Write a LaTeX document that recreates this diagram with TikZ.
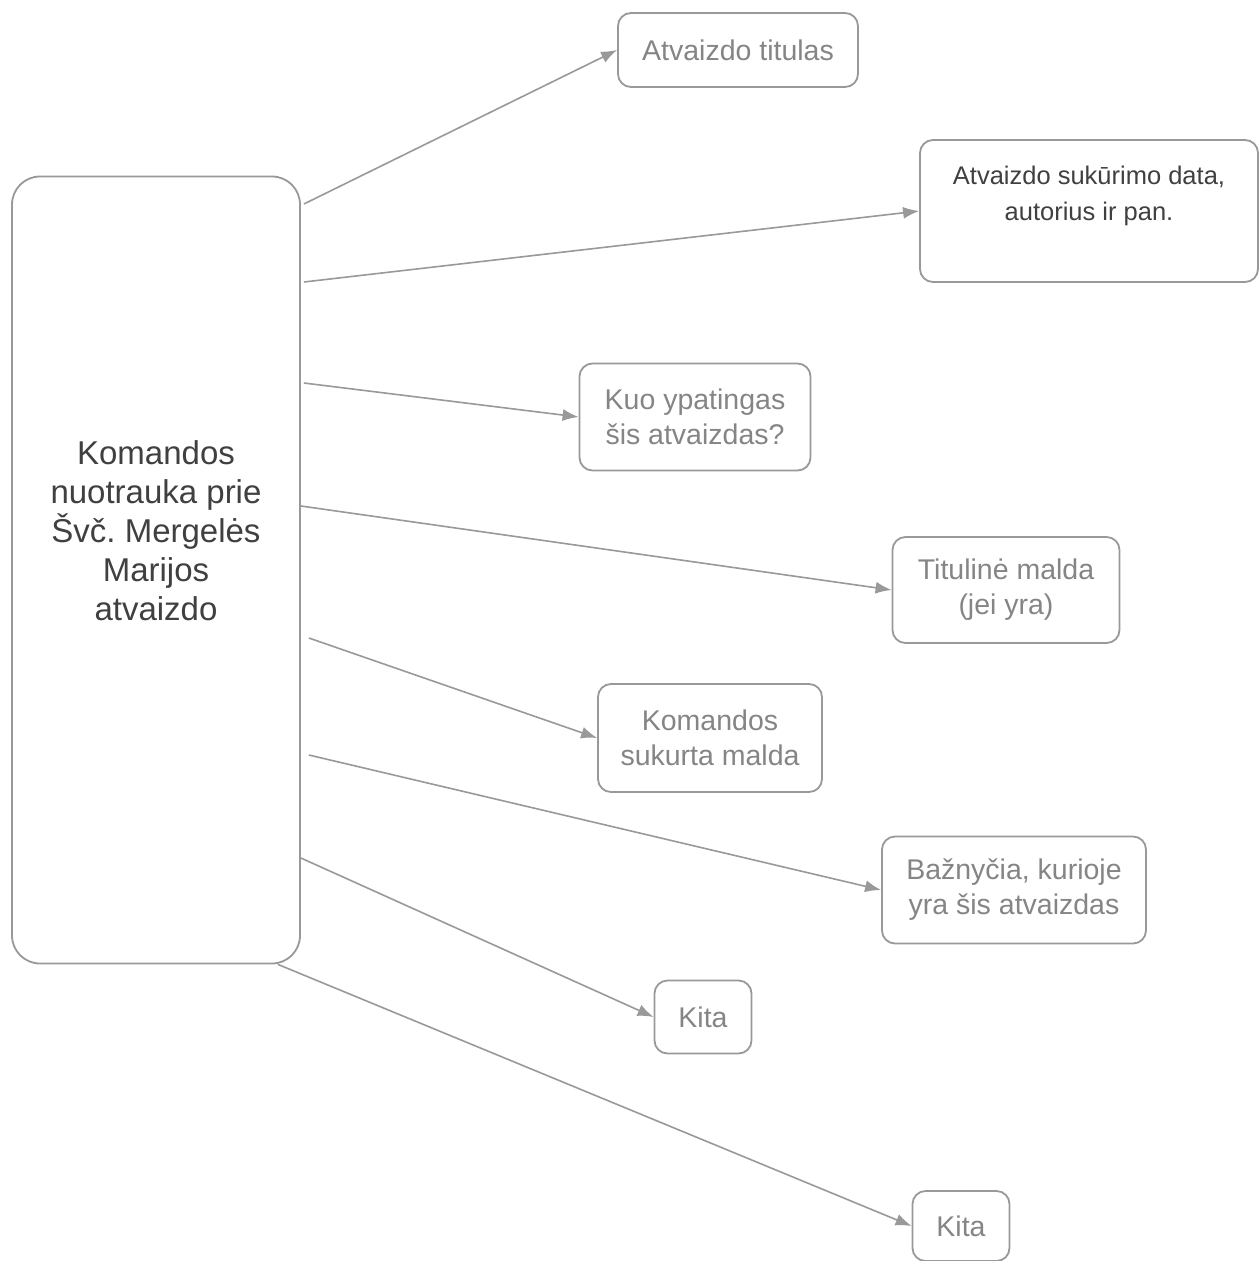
\documentclass[tikz,border=0pt]{standalone}
\usepackage{fontspec}
\setmainfont{Liberation Sans}
\usepackage{xcolor}
\usepackage{tikz}
\usetikzlibrary{calc,arrows.meta}
\definecolor{bg}{HTML}{FFFFFF}
\definecolor{edge}{HTML}{999999}
\definecolor{dark}{HTML}{404040}
\definecolor{light}{HTML}{858585}
\tikzset{
  box/.style={draw=edge, line width=1.8pt, rounded corners=13pt, align=center, inner sep=0pt},
  bigbox/.style={box, rounded corners=28pt, text=dark, font=\fontsize{33}{39}\selectfont},
  labl/.style={text=light, font=\fontsize{28.5}{35}\selectfont},
  labd/.style={text=dark, font=\fontsize{25.5}{36}\selectfont},
  conn/.style={draw=edge, line width=1.6pt, -{Latex[length=16pt,width=12pt]}},
}

\begin{document}
\begin{tikzpicture}[x=1pt,y=-1pt]
  \useasboundingbox[fill=bg] (0,0) rectangle (1259,1261);

  \node[bigbox, minimum width=288pt, minimum height=787pt] (main) at (156,570)
    {Komandos\\nuotrauka prie\\Švč.\ Mergelės\\Marijos\\atvaizdo\\\mbox{}\\\mbox{}};

  \node[box, labl, minimum width=240pt, minimum height=74pt] (t1) at (738,50) {Atvaizdo titulas};
  \node[box, labd, minimum width=338pt, minimum height=142pt] (t2) at (1089,211)
    {Atvaizdo sukūrimo data,\\autorius ir pan.\\\mbox{}};
  \node[box, labl, minimum width=231pt, minimum height=107pt] (t3) at (695,417) {Kuo ypatingas\\šis atvaizdas?};
  \node[box, labl, minimum width=227pt, minimum height=106pt] (t4) at (1006,590) {Titulinė malda\\(jei yra)};
  \node[box, labl, minimum width=224pt, minimum height=108pt] (t5) at (710,738) {Komandos\\sukurta malda};
  \node[box, labl, minimum width=264pt, minimum height=107pt] (t6) at (1014,890) {Bažnyčia, kurioje\\yra šis atvaizdas};
  \node[box, labl, minimum width=97pt, minimum height=73pt] (t7) at (703,1017) {Kita};
  \node[box, labl, minimum width=97pt, minimum height=70pt] (t8) at (961,1226) {Kita};

  \foreach \dx/\dy/\to in {3/366/t1, 3/288/t2, 3/187/t3, 0/64/t4, 8/-68/t5, 8/-185/t6, 0/-288/t7}{
    \draw[conn] ([xshift=\dx pt, yshift=\dy pt]main.east) -- (\to.west);
  }
  \draw[conn] ([xshift=-23pt]main.south east) -- (t8.west);
\end{tikzpicture}
\end{document}
